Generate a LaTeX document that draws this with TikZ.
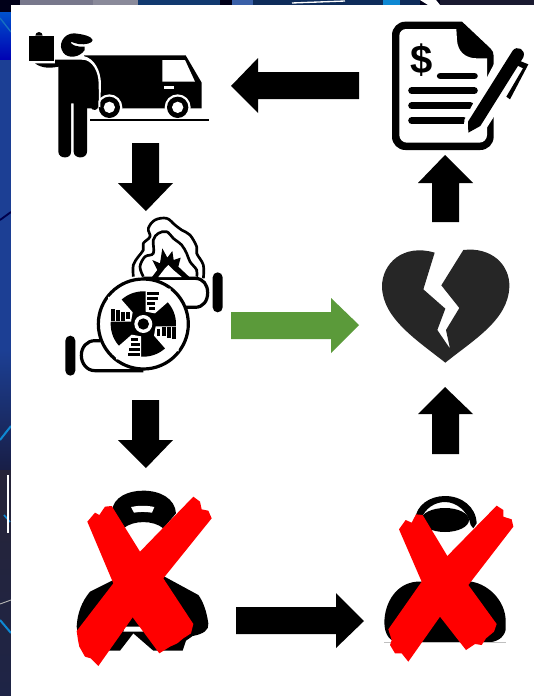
\documentclass[tikz,border=0pt]{standalone}
\usepackage{fontspec}
\setmainfont{Liberation Sans}
\definecolor{arrowgreen}{HTML}{5B9A3A}
\definecolor{heartgrey}{HTML}{262626}
\definecolor{xred}{HTML}{FF0000}
\tikzset{
  ink/.style={fill=black,draw=none},
  paper/.style={fill=white,draw=none},
  blockarrow/.style={fill=black,draw=none},
  greenarrow/.style={fill=arrowgreen,draw=none},
  crossmark/.style={fill=xred,draw=none},
  rule/.style={draw=black,line width=5.2pt,line cap=round},
  outline/.style={draw=black,line width=2.4pt,fill=none,line join=round},
  smoke/.style={draw=black,line width=2pt,fill=none,line join=round},
  zoomed/.style={x=0.25pt,y=-0.25pt}
}
\begin{document}
\begin{tikzpicture}[x=0.75pt,y=-0.75pt]
\useasboundingbox (0,0) rectangle (534,696);
% backdrop
\fill[fill=black!90!blue] (0,0) rectangle (534,696);
\shade[top color=blue!60!cyan!80!black,bottom color=blue!70!black] (0,12) rectangle (11,60);
\fill[fill={rgb,255:red,28;green,63;blue,148}] (0,60) rectangle (11,350);
\shade[top color={rgb,255:red,28;green,63;blue,148},bottom color={rgb,255:red,24;green,30;blue,70}] (0,350) rectangle (11,470);
\shade[top color={rgb,255:red,38;green,36;blue,56},bottom color={rgb,255:red,30;green,36;blue,70}] (0,470) rectangle (11,696);
\draw[cyan!70!blue,line width=1.5pt] (0,440) -- (11,426);
\draw[cyan!70!blue,line width=1.5pt] (0,620) -- (11,633);
\draw[cyan!70!blue,line width=1.2pt] (4,515) -- (10,522);
\draw[cyan!50!blue,line width=1pt] (0,18) -- (11,32);
\draw[white,line width=1.4pt] (8,475) -- (8,533);
\draw[white!70!black,line width=0.7pt] (0,604) -- (11,600);
\draw[blue!30!black,line width=1.4pt] (0,220) -- (11,212);
% top strip
\fill[fill={rgb,255:red,120;green,120;blue,140}] (20,0) rectangle (93,5);
\fill[fill={rgb,255:red,138;green,138;blue,154}] (93,0) rectangle (138,5);
\fill[fill={rgb,255:red,18;green,58;blue,112}] (138,0) rectangle (220,5);
\fill[fill={rgb,255:red,58;green,96;blue,168}] (232,0) rectangle (253,5);
\fill[fill={rgb,255:red,14;green,44;blue,90}] (253,0) rectangle (420,5);
\draw[white,line width=1pt] (292,3) -- (345,1);
\fill[fill=cyan!70!blue] (383,0) rectangle (400,5);
\fill[fill=white] (420,0) -- (436,0) -- (440,5) -- (428,5) -- cycle;
\fill[fill={rgb,255:red,26;green,26;blue,48}] (440,0) rectangle (534,5);
% white panel
\fill[fill=white] (11,5) rectangle (534,696);

% block arrows
\path[blockarrow] (359,72) -- (258,72) -- (258,58) -- (231,86) -- (258,113) -- (258,99) -- (359,99) -- cycle;
\path[blockarrow] (132,143) -- (159,143) -- (159,183) -- (173,183) -- (146,211) -- (118,183) -- (132,183) -- cycle;
\path[blockarrow] (432,222) -- (459,222) -- (459,183) -- (473,183) -- (445,155) -- (418,183) -- (432,183) -- cycle;
\path[greenarrow] (231,312) -- (331,312) -- (331,298) -- (359,325) -- (331,353) -- (331,339) -- (231,339) -- cycle;
\path[blockarrow] (132,400) -- (159,400) -- (159,440) -- (173,440) -- (146,468) -- (118,440) -- (132,440) -- cycle;
\path[blockarrow] (432,454) -- (459,454) -- (459,414) -- (473,414) -- (445,387) -- (418,414) -- (432,414) -- cycle;
\path[blockarrow] (236,607) -- (336,607) -- (336,593) -- (364,621) -- (336,648) -- (336,634) -- (236,634) -- cycle;

% delivery man and van
\begin{scope}[shift={(0,0)},zoomed]
  \path[ink] (252,166) -- (557,166) -- (605,248) -- (605,325) -- (252,325) -- cycle;
  \path[paper] (487,180) -- (555,180) -- (585,245) -- (487,245) -- cycle;
  \path[paper] (493,259) rectangle (522,266);
  \foreach \cx in {328,533}{
    \fill[white] (\cx,322) circle (39);
    \fill[black] (\cx,322) circle (32);
    \fill[white] (\cx,322) circle (17);
  }
  \draw[black,line width=2.2pt] (270,360) -- (627,360);
  % man
  \path[ink] (87,107) rectangle (162,184);
  \path[ink] (106,107) arc[start angle=180,end angle=360,radius=11];
  \path[ink] (105,190) .. controls (125,205) and (150,205) .. (175,200) -- (175,455) .. controls (175,478) and (215,478) .. (213,455) -- (213,310) -- (221,310) -- (221,455) .. controls (221,478) and (261,478) .. (261,455) -- (261,215) -- (272,320) .. controls (275,335) and (295,332) .. (295,318) -- (297,250) .. controls (296,215) and (280,180) .. (245,179) -- (165,179) -- (165,190) -- cycle;
  \path[paper] (250,168) .. controls (285,175) and (302,215) .. (303,250) -- (301,322) -- (297,320) -- (296,250) .. controls (295,215) and (279,180) .. (245,178) -- cycle;
  \path[ink] (254,150) .. controls (240,172) and (205,178) .. (190,158) .. controls (172,135) and (190,100) .. (222,100) .. controls (245,102) and (275,108) .. (278,120) .. controls (278,130) and (255,135) .. (235,132) .. controls (225,131) and (215,125) .. (212,125) .. controls (210,135) and (235,142) .. (254,140) -- cycle;
\end{scope}

% invoice
\begin{scope}[shift={(267,0)},zoomed]
  \path[ink] (415,65) -- (585,65) -- (670,145) .. controls (677,152) and (680,158) .. (680,168) -- (680,410) arc[start angle=0,end angle=90,radius=40] -- (415,450) arc[start angle=90,end angle=180,radius=40] -- (375,105) arc[start angle=180,end angle=270,radius=40] -- cycle;
  \path[paper] (417,87) -- (568,87) -- (570,120) .. controls (572,155) and (595,175) .. (630,175) -- (660,175) -- (660,405) arc[start angle=0,end angle=90,radius=23] -- (420,428) arc[start angle=90,end angle=180,radius=23] -- (397,107) arc[start angle=180,end angle=270,radius=20] -- cycle;
  \node[font=\bfseries\fontsize{30pt}{30pt}\selectfont,inner sep=0pt] (dollar) at (463,180) {\$};
  \draw[rule] (520,228) -- (622,228);
  \draw[rule] (434,272) -- (622,272);
  \draw[rule] (434,317) -- (610,317);
  \draw[rule] (434,362) -- (590,362);
  % pen
  \path[paper] (590,415) -- (592,360) -- (690,175) -- (800,170) -- (684,345) -- (650,398) -- cycle;
  \path[ink] (604,398) -- (603,365) -- (737,152) .. controls (750,135) and (778,148) .. (769,172) -- (640,378) -- cycle;
  \path[ink] (752,180) -- (784,193) -- (729,298) -- (718,290) -- (768,205) -- (748,195) -- cycle;
\end{scope}

% fan
\begin{scope}[shift={(40,210)},zoomed]
  \path[ink] (76,392) arc[start angle=180,end angle=360,radius=15] -- (106,482) arc[start angle=0,end angle=180,radius=15] -- cycle;
  \path[ink] (518,202) arc[start angle=180,end angle=360,radius=15] -- (548,292) arc[start angle=0,end angle=180,radius=15] -- cycle;
  \draw[outline] (310,205) -- (465,205) .. controls (490,205) and (503,225) .. (503,248) .. controls (503,272) and (490,292) .. (465,292) -- (435,292);
  \draw[outline] (310,482) -- (165,482) .. controls (140,482) and (124,460) .. (124,436) .. controls (124,412) and (140,392) .. (165,392) -- (180,392);
  \path[paper] (310,342) circle (135);
  \draw[black,line width=2.4pt] (310,342) circle (135);
  \fill[black] (310,342) circle (98);
  \foreach \a in {0,-90,-180,-270}{
    \begin{scope}[rotate around={\a:(310,342)}]
      \path[paper] (317,236) -- (392,236) -- (385,275) -- (345,310) -- (317,305) -- cycle;
      \fill[black] (320,245) rectangle (356,256);
      \fill[black] (320,260) rectangle (353,271);
      \fill[black] (320,275) rectangle (346,286);
      \fill[black] (326,291) rectangle (346,301);
    \end{scope}
  }
  \fill[white] (310,342) circle (27);
  \fill[black] (310,342) circle (17);
\end{scope}

% fire cloud
\begin{scope}[shift={(125,215)},zoomed]
  \draw[smoke] plot[smooth,tension=0.6] coordinates {(25,185) (25,150) (40,125) (55,105) (55,85) (75,65) (70,40) (90,15) (125,10) (150,30) (170,45) (195,60) (215,95) (215,115) (235,150) (235,190)};
  \draw[smoke] plot[smooth,tension=0.6] coordinates {(55,185) (45,155) (60,125) (85,115) (85,75) (100,55) (125,50) (145,70) (170,90) (185,115) (195,140) (215,165) (215,185)};
  \path[ink] (78,190) -- (97,165) -- (82,135) -- (105,145) -- (112,100) -- (127,128) -- (142,108) -- (146,135) -- (167,128) -- (160,155) -- (192,185) -- (192,190) -- cycle;
  \path[paper] (100,186) -- (120,160) -- (130,150) -- (145,165) -- (170,186) -- cycle;
  \draw[black,line width=2pt] (40,192) -- (200,192);
\end{scope}

% first pack, crossed out
\begin{scope}[shift={(0,470)},zoomed]
  \path[ink] (335,125) .. controls (340,80) and (385,62) .. (430,62) .. controls (480,62) and (525,85) .. (528,130) -- (490,175) .. controls (460,150) and (400,150) .. (370,175) -- cycle;
  \path[paper] (393,111) .. controls (415,106) and (440,106) .. (463,111) -- (456,128) .. controls (435,125) and (420,125) .. (402,128) -- cycle;
  \path[ink] (340,330) -- (270,365) .. controls (245,395) and (232,430) .. (230,470) -- (240,530) -- (320,542) -- (360,542) -- (400,490) -- (460,542) -- (548,542) -- (558,512) -- (578,498) .. controls (610,492) and (628,480) .. (625,460) .. controls (620,425) and (610,395) .. (595,375) -- (490,318) -- cycle;
  \path[paper] (375,470) -- (430,470) -- (430,485) -- (370,485) -- cycle;
  \path[crossmark] (262,155) -- (285,128) -- (298,135) -- (315,110) -- (335,108) -- (420,245) -- (490,325) -- (580,462) -- (573,490) -- (550,505) -- (532,520) -- (510,530) -- (478,550) -- (398,442) -- (340,340) -- cycle;
  \path[crossmark] (580,80) -- (600,95) -- (605,118) -- (625,122) -- (635,145) -- (490,325) -- (398,442) -- (295,588) -- (272,565) -- (255,560) -- (238,530) -- (234,510) -- (230,483) -- (340,340) -- (420,245) -- cycle;
\end{scope}

% second pack, crossed out
\begin{scope}[shift={(340,470)},zoomed]
  \path[ink] (225,150) .. controls (228,105) and (270,78) .. (315,78) .. controls (365,78) and (408,110) .. (410,160) -- (400,175) -- (392,165) .. controls (385,125) and (350,96) .. (315,96) .. controls (285,96) and (255,115) .. (245,145) -- (240,160) -- cycle;
  \fill[black] (315,150) ellipse [x radius=72,y radius=36];
  \path[ink] (180,517) .. controls (150,517) and (133,495) .. (133,455) .. controls (135,395) and (170,340) .. (230,335) -- (395,335) .. controls (450,345) and (495,395) .. (497,450) -- (497,480) .. controls (490,505) and (470,517) .. (440,517) -- cycle;
  \draw[black!25,line width=0.5pt] (133,518) -- (497,518);
  \path[crossmark] (177,178) -- (197,150) -- (215,158) -- (228,133) -- (248,135) -- (322,258) -- (385,345) -- (470,462) -- (462,485) -- (438,505) -- (425,525) -- (405,522) -- (378,540) -- (300,440) -- (245,335) -- cycle;
  \path[crossmark] (470,107) -- (490,120) -- (490,140) -- (515,148) -- (520,170) -- (385,345) -- (300,440) -- (205,575) -- (185,550) -- (165,550) -- (150,525) -- (155,510) -- (145,478) -- (245,335) -- (322,258) -- cycle;
\end{scope}

% broken heart
\begin{scope}[shift={(360,230)},zoomed]
  \path[fill=heartgrey] (224,68) -- (190,178) -- (256,236) -- (232,300) -- (270,356) -- (258,300) -- (298,234) -- (244,166) -- (310,60) .. controls (395,50) and (450,105) .. (448,170) .. controls (445,270) and (340,330) .. (256,398) .. controls (170,330) and (68,265) .. (66,170) .. controls (66,100) and (130,40) .. (224,68) -- cycle;
\end{scope}
\end{tikzpicture}
\end{document}
